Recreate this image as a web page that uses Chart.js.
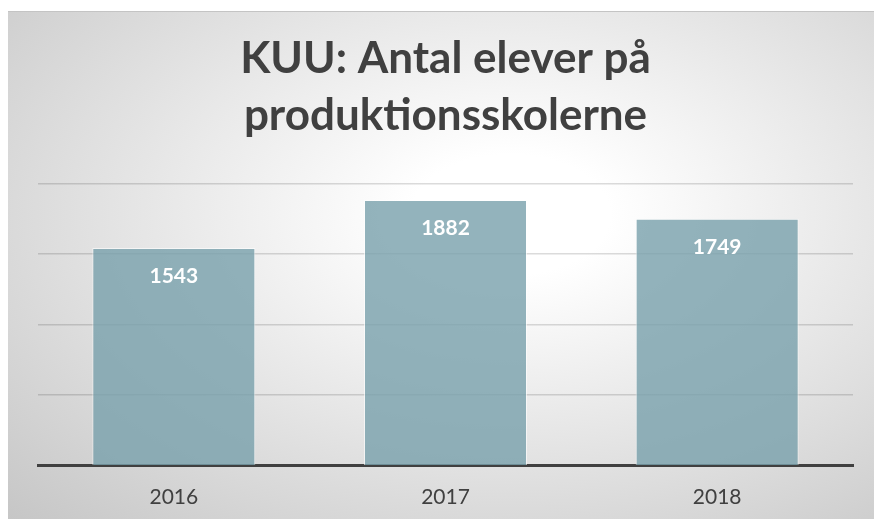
<!DOCTYPE html>
<html>
<head>
<meta charset="utf-8">
<script src="https://cdn.jsdelivr.net/npm/chart.js@4/dist/chart.umd.min.js"></script>
<style>
  html, body { margin: 0; padding: 0; background: #fff; }
  #wrap { position: relative; width: 874px; height: 519px; }
  #bg {
    position: absolute; left: 8px; top: 11px; right: 0; bottom: 0;
    border-top: 1px solid #c4c4c4;
    background: radial-gradient(ellipse farthest-corner at 58% 40%, #ffffff 0%, #ffffff 14%, #c6c6c6 100%);
  }
  #c { position: absolute; left: 0; top: 0; }
</style>
</head>
<body>
<div id="wrap">
  <div id="bg"></div>
  <canvas id="c" width="874" height="519"></canvas>
</div>
<script>
const years = ['2016', '2017', '2018'];
const elever = [1543, 1882, 1749];
const titel = ['KUU: Antal elever på', 'produktionsskolerne'];

// white value labels just inside the top of each bar
const barLabels = {
  id: 'barLabels',
  afterDatasetsDraw(chart) {
    const ctx = chart.ctx;
    const meta = chart.getDatasetMeta(0);
    ctx.save();
    ctx.fillStyle = '#ffffff';
    ctx.font = 'bold 21px Lato';
    ctx.textAlign = 'center';
    ctx.textBaseline = 'middle';
    meta.data.forEach((bar, i) => {
      ctx.fillText(String(elever[i]), bar.x, bar.y + 28);
    });
    ctx.restore();
  }
};

const ctx = document.getElementById('c').getContext('2d');
const chart = new Chart(ctx, {
  type: 'bar',
  data: {
    labels: years,
    datasets: [{
      label: 'Antal elever',
      data: elever,
      backgroundColor: 'rgba(120, 160, 171, 0.8)',
      borderColor: 'rgba(255, 255, 255, 0.6)',
      borderWidth: 1,
      categoryPercentage: 1.0,
      barPercentage: 0.6
    }]
  },
  options: {
    responsive: false,
    animation: false,
    layout: { padding: { left: 38, right: 21, top: 0, bottom: -10 } },
    plugins: {
      legend: { display: false },
      tooltip: { enabled: false },
      title: {
        display: true,
        text: titel,
        color: '#404040',
        font: { family: 'Lato', size: 44, weight: 'bold', lineHeight: 1.3 },
        padding: { top: 30, bottom: 39 }
      }
    },
    scales: {
      x: {
        grid: { display: false, drawTicks: false },
        border: { display: true, color: '#404040', width: 3 },
        ticks: { color: '#404040', font: { family: 'Lato', size: 21 }, padding: 19 }
      },
      y: {
        min: 0,
        max: 2000,
        ticks: { display: false, stepSize: 500 },
        grid: { color: 'rgba(0, 0, 0, 0.14)', lineWidth: 1.5, drawTicks: false },
        border: { display: false }
      }
    }
  },
  plugins: [barLabels]
});
</script>
</body>
</html>
